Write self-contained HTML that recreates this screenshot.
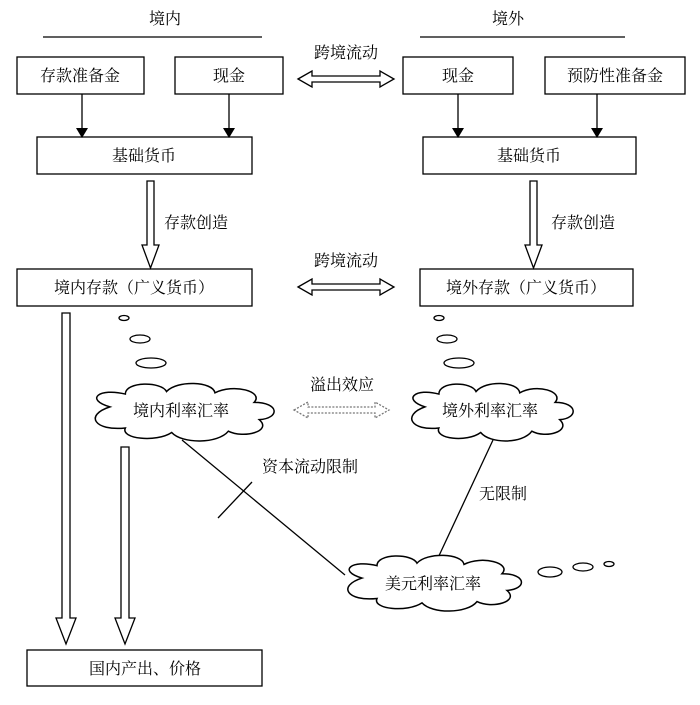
<!DOCTYPE html>
<html><head><meta charset="utf-8"><style>
body{margin:0;background:#fff}
svg text{font-family:"Liberation Serif","Noto Serif CJK SC",serif;font-size:16px;fill:#000}
</style></head><body>
<svg width="700" height="700" viewBox="0 0 700 700" xmlns="http://www.w3.org/2000/svg">
<defs>
<marker id="ah" markerWidth="10" markerHeight="12" refX="8" refY="6" orient="auto" markerUnits="userSpaceOnUse"><path d="M0,0 L10,6 L0,12 Z" fill="#000"/></marker>
<g id="cloud">
<path d="M-70,-8 C-95,-20 -80,-38 -55,-28 C-55,-48 -20,-48 -15,-32 C-5,-50 30,-48 32,-30 C50,-45 80,-32 70,-15 C95,-15 95,10 75,12 C88,30 60,42 45,30 C35,50 0,50 -10,32 C-25,48 -60,42 -55,25 C-85,30 -95,5 -70,-8 Z" fill="#fff" stroke="#000" stroke-width="1.5" vector-effect="non-scaling-stroke"/>
</g>
</defs>
<g fill="none" stroke="#000" stroke-width="1.3">
<line x1="43" y1="37" x2="262" y2="37"/>
<line x1="420" y1="37" x2="625" y2="37"/>
<rect x="17" y="57" width="127" height="37"/>
<rect x="175" y="57" width="108" height="37"/>
<rect x="403" y="57" width="110" height="37"/>
<rect x="545" y="57" width="140" height="37"/>
<rect x="37" y="137" width="215" height="37"/>
<rect x="423" y="137" width="213" height="37"/>
<rect x="17" y="269" width="235" height="37"/>
<rect x="420" y="269" width="213" height="37"/>
<rect x="27" y="650" width="235" height="36"/>
<line x1="82" y1="94" x2="82" y2="136" marker-end="url(#ah)"/>
<line x1="229" y1="94" x2="229" y2="136" marker-end="url(#ah)"/>
<line x1="458" y1="94" x2="458" y2="136" marker-end="url(#ah)"/>
<line x1="597" y1="94" x2="597" y2="136" marker-end="url(#ah)"/>
<path d="M147,181 H154 V245 H159 L150.5,268 L142,245 H147 Z"/>
<path d="M530,181 H537 V245 H542 L533.5,268 L525,245 H530 Z"/>
<path d="M62,313 H70 V618 H76 L66,644 L56,618 H62 Z"/>
<path d="M121,447 H129 V618 H135 L125,644 L115,618 H121 Z"/>
<path d="M298,79 L312,71 V76 H380 V71 L394,79 L380,87 V82 H312 V87 Z"/>
<path d="M298,287 L312,279 V284 H380 V279 L394,287 L380,295 V290 H312 V295 Z"/>
<path d="M294,410 L308,402 V407 H375 V402 L389,410 L375,418 V413 H308 V418 Z" stroke="#777" stroke-dasharray="2,1.5"/>
<ellipse cx="124" cy="318" rx="5" ry="2.5"/>
<ellipse cx="140" cy="339" rx="10" ry="4"/>
<ellipse cx="151" cy="363" rx="15" ry="5"/>
<ellipse cx="439" cy="318" rx="5" ry="2.5"/>
<ellipse cx="447" cy="339" rx="10" ry="4"/>
<ellipse cx="459" cy="363" rx="15" ry="5"/>
<ellipse cx="550" cy="572" rx="12" ry="5"/>
<ellipse cx="583" cy="567" rx="10" ry="4"/>
<ellipse cx="609" cy="564" rx="5" ry="2.5"/>
<line x1="182" y1="440" x2="345" y2="575"/>
<line x1="218" y1="518" x2="252" y2="482"/>
<line x1="493" y1="440" x2="437" y2="560"/>
</g>
<use href="#cloud" transform="translate(182,412) scale(1.03,0.64)"/>
<use href="#cloud" transform="translate(490,412) scale(0.93,0.64)"/>
<use href="#cloud" transform="translate(432,583) scale(1.0,0.62)"/>
<g text-anchor="middle">
<text x="165" y="24">境内</text>
<text x="508" y="24">境外</text>
<text x="80" y="81">存款准备金</text>
<text x="229" y="81">现金</text>
<text x="458" y="81">现金</text>
<text x="615" y="81">预防性准备金</text>
<text x="346" y="58">跨境流动</text>
<text x="144" y="161">基础货币</text>
<text x="529" y="161">基础货币</text>
<text x="196" y="228">存款创造</text>
<text x="583" y="228">存款创造</text>
<text x="346" y="266">跨境流动</text>
<text x="134" y="293">境内存款（广义货币）</text>
<text x="526" y="293">境外存款（广义货币）</text>
<text x="342" y="390">溢出效应</text>
<text x="181" y="416">境内利率汇率</text>
<text x="490" y="416">境外利率汇率</text>
<text x="310" y="472">资本流动限制</text>
<text x="503" y="499">无限制</text>
<text x="433" y="589">美元利率汇率</text>
<text x="145" y="674">国内产出、价格</text>
</g>
</svg>
</body></html>
